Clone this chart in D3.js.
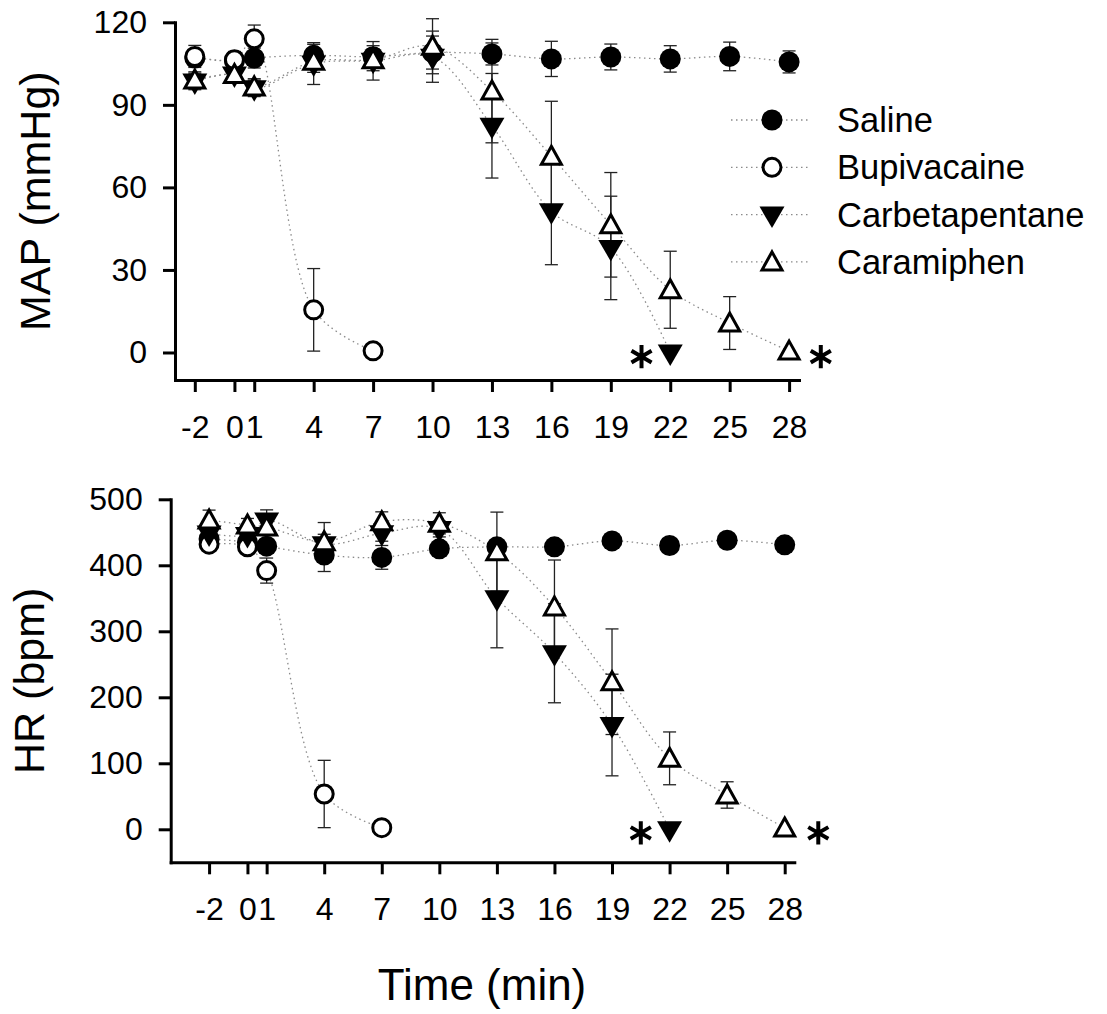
<!DOCTYPE html>
<html>
<head>
<meta charset="utf-8">
<script src="https://cdn.jsdelivr.net/npm/d3@7"></script>
<style>
  body { margin: 0; background: #fff; }
  text { font-family: "Liberation Sans", Arial, sans-serif; fill: #000; }
</style>
</head>
<body>
<div id="chart-area"></div>
<script>
// Time points (min)
let times = [-2, 0, 1, 4, 7, 10, 13, 16, 19, 22, 25, 28];
let seriesNames = ["Saline", "Bupivacaine", "Carbetapentane", "Caramiphen"];

// MAP (mmHg), mean and SEM
let mapSaline = [107, 106, 107, 108, 107.5, 109, 108.5, 106.7, 107.4, 106.7, 107.6, 105.6];
let mapSalineErr = [3, 3, 3.6, 4, 4, 6, 4, 6.4, 4.7, 4.8, 5.2, 4];
let mapBupi = [107.6, 106.4, 114, 15.5, 0.6];
let mapBupiErr = [4, 3, 5, 15, 0];
let mapCarbe = [98.5, 101, 96, 105, 106, 107.5, 82.4, 51.3, 38, 0];
let mapCarbeErr = [3, 3, 3, 7.6, 7, 9.3, 19, 19.4, 18.8, 0];
let mapCara = [99, 101, 96.5, 105.8, 106.4, 111.3, 95, 71.3, 46.4, 22.8, 10.7, 0.5];
let mapCaraErr = [3, 3, 3, 4, 4, 10, 18.8, 20, 19, 14, 9.6, 0];

// HR (bpm), mean and SEM
let hrSaline = [440, 435, 429, 415.6, 412, 425, 428, 428, 437, 430, 438, 431];
let hrSalineErr = [8, 8, 10, 25, 18, 10, 8, 8, 8, 8, 8, 8];
let hrBupi = [432, 428, 392, 53.5, 2.5];
let hrBupiErr = [10, 10, 19, 51, 0];
let hrCarbe = [448, 446, 468, 432, 448.5, 455, 350, 266.7, 158, 0];
let hrCarbeErr = [10, 10, 16, 15, 12, 12, 75, 75, 77, 0];
let hrCara = [468.6, 461, 458, 435.8, 466, 463.6, 420.6, 337, 223.6, 107.5, 52, 2];
let hrCaraErr = [15, 10, 10, 29, 15, 16, 60, 71, 80, 40, 20, 0];

// Tick values
let mapTicks = [0, 30, 60, 90, 120];
let hrTicks = [0, 100, 200, 300, 400, 500];

// Significance markers (time, value)
let mapStars = [{t: 20.55, v: -1.5}, {t: 29.6, v: -1.5}];
let hrStars = [{t: 20.5, v: -5.5}, {t: 29.75, v: -5.5}];

function makeSeries(vals) {
	return seriesNames.map((name, i) => ({
		name: name,
		points: vals[i][0].map((v, j) => ({t: times[j], v: v, e: vals[i][1][j]}))
	}));
}

let panels = [
	{
		xDomain: [-3, 28.5], left: 175, right: 799,
		yDomain: [-10, 120], top: 22.3, bottom: 380,
		yTicks: mapTicks, title: "MAP (mmHg)", titleX: 50, stars: mapStars,
		series: makeSeries([[mapSaline, mapSalineErr], [mapBupi, mapBupiErr], [mapCarbe, mapCarbeErr], [mapCara, mapCaraErr]])
	},
	{
		xDomain: [-4, 28.5], left: 170.7, right: 794.3,
		yDomain: [-50, 500], top: 499.3, bottom: 862.3,
		yTicks: hrTicks, title: "HR (bpm)", titleX: 44, stars: hrStars,
		series: makeSeries([[hrSaline, hrSalineErr], [hrBupi, hrBupiErr], [hrCarbe, hrCarbeErr], [hrCara, hrCaraErr]])
	}
];

// Marker styles
let markers = {
	"Saline": {d: d3.symbol(d3.symbolCircle, Math.PI * 10.5 * 10.5)(), fill: "#000", stroke: "none", sw: 0},
	"Bupivacaine": {d: d3.symbol(d3.symbolCircle, Math.PI * 9 * 9)(), fill: "#fff", stroke: "#000", sw: 3},
	"Carbetapentane": {d: "M-12.5,-8L12.5,-8L0,13.5Z", fill: "#000", stroke: "none", sw: 0},
	"Caramiphen": {d: "M0,-10L10,8L-10,8Z", fill: "#fff", stroke: "#000", sw: 3}
};

let svg = d3.select("#chart-area")
	.append("svg")
	.attr("width", 1107)
	.attr("height", 1014);

panels.forEach(p => {
	let x = d3.scaleLinear().domain(p.xDomain).range([p.left, p.right]);
	let y = d3.scaleLinear().domain(p.yDomain).range([p.bottom, p.top]);
	let g = svg.append("g");

	// axes
	let xAxis = g.append("g")
		.attr("transform", "translate(0," + p.bottom + ")")
		.call(d3.axisBottom(x).tickValues(times).tickSize(12).tickSizeOuter(0).tickFormat(d => String(d)));
	xAxis.selectAll("text").attr("y", 58).attr("dy", 0);

	let yAxis = g.append("g")
		.attr("transform", "translate(" + p.left + ",0)")
		.call(d3.axisLeft(y).tickValues(p.yTicks).tickSize(12).tickSizeOuter(0).tickPadding(16).tickFormat(d => String(d)));

	[xAxis, yAxis].forEach(a => {
		a.select(".domain").attr("stroke-width", 3).attr("stroke-linecap", "square");
		a.selectAll(".tick line").attr("stroke-width", 3);
		a.selectAll("text").style("font-size", "32px").attr("fill", "#000");
	});

	// y title
	g.append("text")
		.attr("transform", "translate(" + p.titleX + "," + ((p.top + p.bottom) / 2) + ") rotate(-90)")
		.attr("text-anchor", "middle")
		.style("font-size", "43px")
		.text(p.title);

	// dotted connecting curves
	let line = d3.line()
		.x(d => x(d.t))
		.y(d => y(d.v))
		.curve(d3.curveCatmullRom.alpha(0.5));

	g.selectAll(".series-line")
		.data(p.series)
		.enter()
		.append("path")
		.attr("class", "series-line")
		.attr("d", d => line(d.points))
		.attr("fill", "none")
		.attr("stroke", "#8a8a8a")
		.attr("stroke-width", 1.3)
		.attr("stroke-dasharray", "1.5,3.5");

	// error bars
	p.series.forEach(s => {
		let eb = g.append("g").selectAll("g")
			.data(s.points.filter(d => d.e > 0))
			.enter()
			.append("g")
			.attr("stroke", "#222")
			.attr("stroke-width", 1.3);
		eb.append("line")
			.attr("x1", d => x(d.t)).attr("x2", d => x(d.t))
			.attr("y1", d => y(d.v - d.e)).attr("y2", d => y(d.v + d.e));
		eb.append("line")
			.attr("x1", d => x(d.t) - 6.5).attr("x2", d => x(d.t) + 6.5)
			.attr("y1", d => y(d.v + d.e)).attr("y2", d => y(d.v + d.e));
		eb.append("line")
			.attr("x1", d => x(d.t) - 6.5).attr("x2", d => x(d.t) + 6.5)
			.attr("y1", d => y(d.v - d.e)).attr("y2", d => y(d.v - d.e));
	});

	// markers
	p.series.forEach(s => {
		let m = markers[s.name];
		g.append("g").selectAll("path")
			.data(s.points)
			.enter()
			.append("path")
			.attr("d", m.d)
			.attr("transform", d => "translate(" + x(d.t) + "," + y(d.v) + ")")
			.attr("fill", m.fill)
			.attr("stroke", m.stroke)
			.attr("stroke-width", m.sw);
	});

	// asterisks
	g.selectAll(".star")
		.data(p.stars)
		.enter()
		.append("path")
		.attr("class", "star")
		.attr("d", d3.symbol(d3.symbolAsterisk, 380)())
		.attr("transform", d => "translate(" + x(d.t) + "," + y(d.v) + ")")
		.attr("stroke", "#000")
		.attr("stroke-width", 4)
		.attr("fill", "none");
});

// x title
svg.append("text")
	.attr("x", 482)
	.attr("y", 1000)
	.attr("text-anchor", "middle")
	.style("font-size", "44px")
	.text("Time (min)");

// legend
let legend = svg.append("g").attr("transform", "translate(772,120)");
let rows = legend.selectAll("g")
	.data(seriesNames)
	.enter()
	.append("g")
	.attr("transform", (d, i) => "translate(0," + (i * 47.3) + ")");

rows.append("line")
	.attr("x1", -41).attr("x2", 36)
	.attr("stroke", "#8a8a8a")
	.attr("stroke-width", 1.3)
	.attr("stroke-dasharray", "1.5,3.5");

rows.append("path")
	.attr("d", d => markers[d].d)
	.attr("fill", d => markers[d].fill)
	.attr("stroke", d => markers[d].stroke)
	.attr("stroke-width", d => markers[d].sw);

rows.append("text")
	.attr("x", 65)
	.attr("y", 12)
	.style("font-size", "34.5px")
	.text(d => d);
</script>
</body>
</html>
